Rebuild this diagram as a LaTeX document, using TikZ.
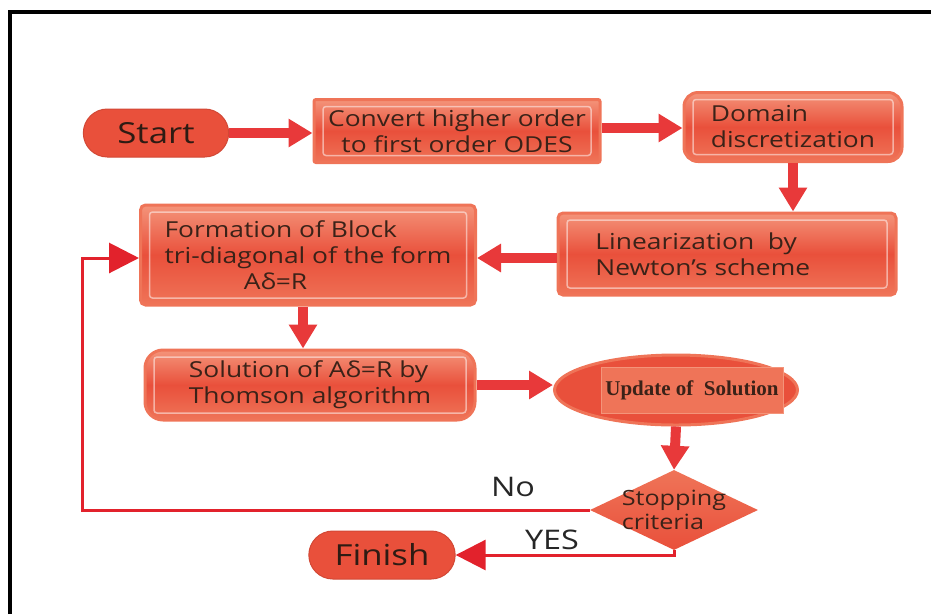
\documentclass[tikz,border=0pt]{standalone}
\usepackage{fontspec}
\setsansfont{Open Sans}[FakeStretch=1.2]
\newfontfamily\updfont{Liberation Serif}
\usetikzlibrary{calc, positioning, arrows.meta, shapes.geometric, shapes.misc}

\definecolor{boxred}{HTML}{E9503B}
\definecolor{boxlight}{HTML}{F4947A}
\definecolor{boxedge}{HTML}{EF7458}
\definecolor{arrowred}{HTML}{E8393A}
\definecolor{lineRed}{HTML}{E2222C}
\definecolor{inkbrown}{HTML}{3A2218}

\tikzstyle{boxtext} = [font=\sffamily\fontsize{22}{26}\selectfont, text=inkbrown]
\tikzstyle{glossy} = [boxtext, draw=boxedge, line width=3pt, top color=boxlight,
   bottom color=boxedge, middle color=boxred, inner sep=0pt,
   path picture={\draw[white, opacity=0.5, line width=1.5pt, rounded corners=3pt]
     ($(path picture bounding box.north west)+(9pt,-7pt)$) rectangle
     ($(path picture bounding box.south east)+(-9pt,7pt)$);}]
\tikzstyle{endpill} = [rounded rectangle, fill=boxred, draw=boxred!90!black, line width=1pt,
   font=\sffamily\fontsize{29}{30}\selectfont, text=inkbrown!80!black,
   minimum height=48pt]
\tikzstyle{decide} = [diamond, top color=boxedge, bottom color=boxred, minimum width=168pt,
   minimum height=80pt, inner sep=0pt]
\tikzstyle{updpanel} = [fill=boxedge, draw=boxlight, line width=1pt, minimum width=182pt,
   minimum height=46pt, font=\updfont\bfseries\fontsize{21}{24}\selectfont, text=inkbrown]
\tikzstyle{fatArrow} = [draw=arrowred, line width=10pt, -{Triangle[width=27pt, length=24pt]}]
\tikzstyle{loopLine} = [draw=lineRed, line width=3pt, -{Triangle[width=30pt, length=30pt]}]
\tikzstyle{branchtext} = [font=\sffamily\fontsize{27}{28}\selectfont, text=black!85]

\begin{document}
\begin{tikzpicture}[x=1pt, y=-1pt]
  \useasboundingbox (0,0) rectangle (931,614);
  \draw[line width=4pt] (10,614) -- (10,12) -- (931,12);

  \node[endpill, minimum width=152pt] (start) at (156,133) {Start};
  \node[glossy, align=center, minimum width=286pt, minimum height=63pt, rounded corners=2pt]
    (conv) at (457,131) {Convert higher order\\to first order ODES};
  \node[glossy, align=left, minimum width=218pt, minimum height=69pt, rounded corners=14pt]
    (dom) at (793,127) {Domain\\discretization};
  \node[glossy, align=left, minimum width=338pt, minimum height=82pt, rounded corners=5pt]
    (lin) at (727,254) {Linearization~ by\\Newton's scheme\hspace*{2.2em}};
  \node[glossy, align=left, minimum width=335pt, minimum height=100pt, rounded corners=5pt]
    (form) at (308,255) {Formation of Block\\tri-diagonal of the form\\\hspace*{3.6em}Aδ=R};
  \node[glossy, align=left, minimum width=330pt, minimum height=70pt, rounded corners=18pt]
    (sol) at (310,385) {Solution of Aδ=R by\\Thomson algorithm};
  \node[ellipse, fill=boxred, draw=boxedge, line width=3pt, minimum width=243pt,
    minimum height=70pt, inner sep=0pt,
    label={[updpanel, xshift=16pt]center:Update of~ Solution}] (upd) at (676,390) {};
  \node[decide, label={[boxtext, font=\sffamily\fontsize{21}{24}\selectfont, align=left]
    center:Stopping\\criteria}] (stop) at (674,510) {};
  \node[endpill, minimum width=153pt] (fin) at (382,555) {Finish};

  \node[branchtext] (no) at (513,487) {No};
  \node[branchtext] (yes) at (552,540) {YES};
  \coordinate (back) at (82,510);

  % main flow
  \draw[fatArrow] (start.east) -- (start.east -| conv.west);
  \draw[fatArrow] ($(conv.east)+(0,-3)$) -- ($(conv.east -| dom.west)+(0,-3)$);
  \draw[fatArrow] (dom.south) -- (dom.south |- lin.north);
  \draw[fatArrow] ($(lin.west)+(0,4)$) -- ($(lin.west -| form.east)+(0,4)$);
  \draw[fatArrow] ($(form.south)+(-5,0)$) -- ($(form.south |- sol.north)+(-5,0)$);
  \draw[fatArrow] (sol.east) -- (sol.east -| upd.west);
  \draw[fatArrow] (upd.south) -- (stop.north);

  % decision branches
  \draw[loopLine] (stop.west) -- (back) |- ($(form.west)+(0,3)$);
  \draw[loopLine] (stop.south) |- (fin.east);
\end{tikzpicture}
\end{document}
